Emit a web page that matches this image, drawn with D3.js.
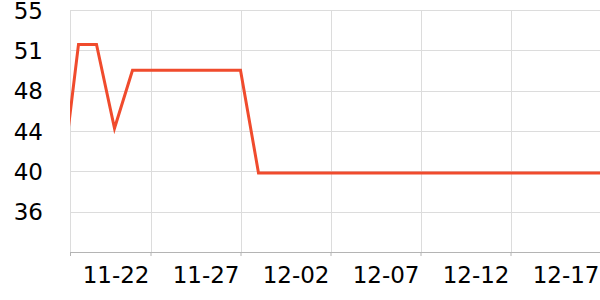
<!DOCTYPE html>
<html>
<head>
<meta charset="utf-8">
<script src="https://cdn.jsdelivr.net/npm/d3@7"></script>
<style>
  html, body { margin: 0; padding: 0; background: #fff; }
  svg { display: block; }
  text { font-family: "DejaVu Sans", sans-serif; fill: #000; }
</style>
</head>
<body>
<svg id="chart" width="600" height="300"></svg>
<script>
// ---- data ----
const dates = [
  "2023-11-17","2023-11-18","2023-11-19","2023-11-20","2023-11-21","2023-11-22",
  "2023-11-23","2023-11-24","2023-11-25","2023-11-26","2023-11-27","2023-11-28",
  "2023-11-29","2023-11-30","2023-12-01","2023-12-02","2023-12-03","2023-12-04",
  "2023-12-05","2023-12-06","2023-12-07","2023-12-08","2023-12-09","2023-12-10",
  "2023-12-11","2023-12-12","2023-12-13","2023-12-14","2023-12-15","2023-12-16",
  "2023-12-17"
];
const values = [
  38.0, 51.8, 51.8, 44.0, 49.4, 49.4,
  49.4, 49.4, 49.4, 49.4, 49.4, 39.85,
  39.85, 39.85, 39.85, 39.85, 39.85, 39.85,
  39.85, 39.85, 39.85, 39.85, 39.85, 39.85,
  39.85, 39.85, 39.85, 39.85, 39.85, 39.85,
  39.85
];
const xTickDates = ["2023-11-22","2023-11-27","2023-12-02","2023-12-07","2023-12-12","2023-12-17"];
const xTickLabels = ["11-22","11-27","12-02","12-07","12-12","12-17"];
const yTickValues = [32.5, 36.25, 40, 43.75, 47.5, 51.25, 55];

// ---- layout ----
const W = 600, H = 300;
const mLeft = 70, mRight = 600.5, mTop = 10, mBottom = 252;

const parse = d3.timeParse("%Y-%m-%d");
const data = dates.map((d, i) => ({ date: parse(d), value: values[i] }));
const tickDates = xTickDates.map(parse);

const domainStart = new Date(2023, 10, 17, 12, 40);
const domainEnd = parse("2023-12-17");

const x = d3.scaleTime().domain([domainStart, domainEnd]).range([mLeft, mRight]);
const y = d3.scaleLinear().domain([32.5, 55]).range([mBottom, mTop]);

const svg = d3.select("#chart");

svg.append("defs").append("clipPath").attr("id", "plotclip")
  .append("rect").attr("x", mLeft).attr("y", 0).attr("width", W - mLeft).attr("height", H);

const gridY = yTickValues.filter(v => v !== 32.5);

// horizontal grid
svg.append("g")
  .selectAll("line").data(gridY).join("line")
  .attr("x1", mLeft).attr("x2", W)
  .attr("y1", d => Math.round(y(d)) + 0.5).attr("y2", d => Math.round(y(d)) + 0.5)
  .attr("stroke", "#dcdcdc").attr("stroke-width", 1);

// vertical grid
svg.append("g")
  .selectAll("line").data(tickDates).join("line")
  .attr("x1", d => Math.round(x(d)) + 0.5).attr("x2", d => Math.round(x(d)) + 0.5)
  .attr("y1", mTop).attr("y2", mBottom)
  .attr("stroke", "#dcdcdc").attr("stroke-width", 1);

// left edge line
svg.append("line")
  .attr("x1", mLeft + 0.5).attr("x2", mLeft + 0.5).attr("y1", mTop).attr("y2", mBottom)
  .attr("stroke", "#dcdcdc");

// bottom axis
const xAxis = d3.axisBottom(x)
  .tickValues([domainStart].concat(tickDates))
  .tickSize(4)
  .tickFormat("");
const gx = svg.append("g").attr("transform", `translate(0,${mBottom})`).call(xAxis);
gx.select(".domain").attr("stroke", "#b4b4b4").attr("d", `M${mLeft},0.5H${W}`);
gx.selectAll(".tick line").attr("stroke", "#b4b4b4");

// x labels (end-anchored at tick)
svg.append("g")
  .selectAll("text").data(tickDates).join("text")
  .attr("x", d => x(d) - 1)
  .attr("y", 283)
  .attr("text-anchor", "end")
  .attr("font-size", 23)
  .text((d, i) => xTickLabels[i]);

// y labels
svg.append("g")
  .selectAll("text").data(gridY).join("text")
  .attr("x", 43)
  .attr("y", d => y(d) + 8.5)
  .attr("text-anchor", "end")
  .attr("font-size", 23)
  .text(d => d3.format(".0f")(d));

// line
const line = d3.line().x(d => x(d.date)).y(d => y(d.value));
svg.append("path")
  .datum(data)
  .attr("clip-path", "url(#plotclip)")
  .attr("fill", "none")
  .attr("stroke", "#f04b2d")
  .attr("stroke-width", 3)
  .attr("stroke-linejoin", "miter")
  .attr("d", line);
</script>
</body>
</html>
